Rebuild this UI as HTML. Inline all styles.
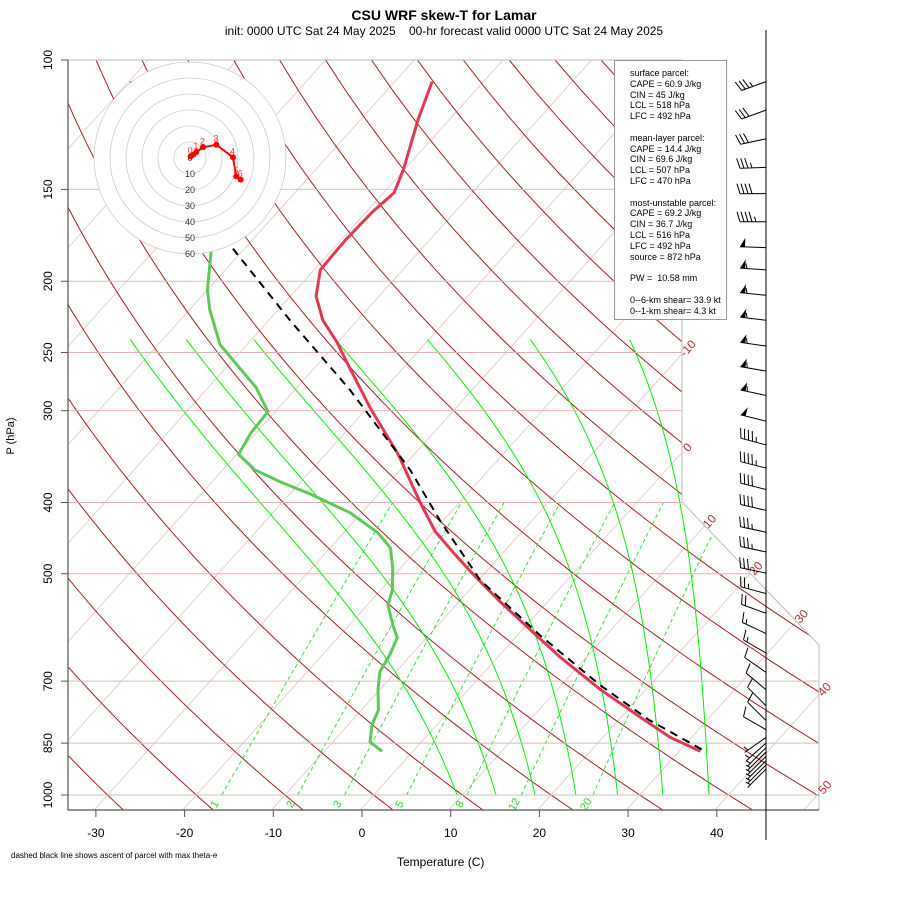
<!DOCTYPE html>
<html><head><meta charset="utf-8"><style>
html,body{margin:0;padding:0;background:#fff;}
#wrap{position:relative;width:900px;height:900px;overflow:hidden;font-family:"Liberation Sans",sans-serif;}
.t{position:absolute;white-space:nowrap;color:#000;}
#panel{position:absolute;left:614px;top:60px;width:113px;height:260px;border:1px solid #999;background:#fff;box-sizing:border-box;font-size:9px;line-height:10.8px;padding:7px 0 0 15px;}
</style></head><body>
<div id="wrap">
<svg id="svg" width="900" height="900" style="position:absolute;left:0;top:0"></svg>
<div class="t" style="left:0;width:888px;text-align:center;top:7px;font-size:14px;font-weight:bold;">CSU WRF skew-T for Lamar</div>
<div class="t" style="left:0;width:888px;text-align:center;top:24px;font-size:12px;">init: 0000 UTC Sat 24 May 2025&nbsp;&nbsp;&nbsp;&nbsp;00-hr forecast valid 0000 UTC Sat 24 May 2025</div>
<div class="t" style="left:397px;top:855px;font-size:12px;">Temperature (C)</div>
<div class="t" style="left:11px;top:851px;font-size:8px;">dashed black line shows ascent of parcel with max theta-e</div>
<div id="panel">surface parcel:<br>CAPE = 60.9 J/kg<br>CIN = 45 J/kg<br>LCL = 518 hPa<br>LFC = 492 hPa<br><br>mean-layer parcel:<br>CAPE = 14.4 J/kg<br>CIN = 69.6 J/kg<br>LCL = 507 hPa<br>LFC = 470 hPa<br><br>most-unstable parcel:<br>CAPE = 69.2 J/kg<br>CIN = 36.7 J/kg<br>LCL = 516 hPa<br>LFC = 492 hPa<br>source = 872 hPa<br><br>PW =&nbsp; 10.58 mm<br><br>0--6-km shear= 33.9 kt<br>0--1-km shear= 4.3 kt</div>
</div>
<script>
// ---- data ----
const tempP = [107,120.7,141,151.6,161,175.8,193,209.6,226,242,262.6,298.4,344,399.5,438,471,506,547,596,649,719,784,835,872];
const tempT = [-65.8,-63.5,-60.1,-58.8,-59.3,-59.5,-59.3,-57.1,-53.9,-50.1,-46,-39.5,-31.8,-24.5,-19.8,-15.2,-10.5,-5.2,0.9,7.0,14.9,22.2,27.6,32.4];
const dewP = [178.3,205.5,218.8,244,262.6,279,301,321,344,361,375,389.5,413,440,461,491,526,551,587,611,645,680,719,766,803,847,872];
const dewT = [-74.1,-70.0,-67.7,-63,-58.4,-54.6,-50.8,-50.6,-49.8,-46.4,-42.3,-37.7,-31.3,-26.1,-23.2,-20.9,-18.7,-17.7,-15.1,-13.3,-12.4,-11.8,-10.2,-8.1,-7.3,-5.8,-3.5];
const parcelP = [107,180,226,281,361,423,510,606,709,791,869];
const parcelT = [-99.8,-71.5,-57.6,-43.8,-28.9,-20.4,-9.8,2.5,14.4,23.5,32.6];
const windP = [107,117,128,140,152,166,180,193,209,226,245,265,286,310,334,359,384,410,439,467,499,532,566,603,641,681,719,756,792,815,835,850,862,874,886,898,910,922];
const windSpd = [35,30,30,35,40,45,50,55,55,55,55,55,55,50,45,45,40,40,35,35,30,25,20,15,15,10,10,10,10,10,5,5,5,5,5,5,5,5];
const windDir = [250,250,258,268,270,270,272,274,276,277,278,280,282,284,285,284,284,283,282,282,282,285,290,295,300,305,310,315,315,300,235,228,225,225,225,225,225,225];
const hodoU = [0.4,2,4.0,8.1,16.5,26.9,28.9,31.7];
const hodoV = [1.0,2,3.75,6.7,8.3,0.4,-11.5,-13.5];
const hodoLbl = ['0','','1','2','3','4','5','6'];
const xTicks = [-30,-20,-10,0,10,20,30,40];
const pTicks = [100,150,200,250,300,400,500,700,850,1000];
const mixW = [1,2,3,5,8,12,20];
const moistT0 = [9.4,13.8,18.2,22.8,27.5,32.6,37.8];
const moistShapeT0 = [8.1,11.9,15.8,19.8,23.7,27.7,31.7];
const isoLabels = [-10,0,10,20,30,40,50];
const hodoRings = [10,20,30,40,50,60];

// ---- axes ----
const NS='http://www.w3.org/2000/svg';
const svg=document.getElementById('svg');
function yP(p){return 60+735*Math.log10(p/100);}
function xT(T,p){return 362+8.87*T+(808-yP(p))*0.9;}
function pY(y){return 100*Math.pow(10,(y-60)/735);}
function mk(tag,parent){const e=document.createElementNS(NS,tag);(parent||svg).appendChild(e);return e;}
function path(pts){return 'M'+pts.map(q=>q[0].toFixed(1)+','+q[1].toFixed(1)).join('L');}

const defs=mk('defs');
const cp=mk('clipPath',defs); cp.setAttribute('id','clipA');
const cpp=mk('polygon',cp); cpp.setAttribute('points','68,60 682,60 682,502 819,645 819,810 68,810');
const bg=mk('g'); bg.setAttribute('clip-path','url(#clipA)');



// isotherms
for(let T=-140;T<=60;T+=10){
  const l=mk('line',bg);
  
  
  l.setAttribute('x1',xT(T,1050));l.setAttribute('y1',yP(1050));
  l.setAttribute('x2',xT(T,95));l.setAttribute('y2',yP(95));
  l.setAttribute('stroke','#e8c0c0');l.setAttribute('stroke-width','0.8');
}
// dry adiabats
for(let th=-30;th<=200;th+=10){
  const pts=[];
  for(let p=1050;p>=95;p-=10){const T=(th+273.15)*Math.pow(p/1000,0.286)-273.15;pts.push([xT(T,p),yP(p)]);}
  const e=mk('path',bg);
  
  
  e.setAttribute('d',path(pts));e.setAttribute('fill','none');e.setAttribute('stroke','#a02020');e.setAttribute('stroke-width','1');
}
// moist adiabats
function satMix(T,p){const es=6.112*Math.exp(17.67*T/(T+243.5));return 0.622*es/(p-es);}
const yTopM=yP(240),yBotM=yP(1000);
moistT0.forEach((T0,k)=>{
  let T=moistShapeT0[k];const off=(T0-T)*8.87;
  const pts=[[xT(T,1000)+off,yBotM]];
  for(let p=1000;p>240;p-=2){
    const Tk=T+273.15,rs=satMix(T,p);
    const d=(287*Tk+2.5e6*rs)/(p*(1005+2.5e6*2.5e6*rs*0.622/(287*Tk*Tk)));
    T-=d*2;const y=yP(p-2);
    pts.push([xT(T,p-2)+off*(y-yTopM)/(yBotM-yTopM),y]);
  }
  const e=mk('path',bg);
  
  
  e.setAttribute('d',path(pts));e.setAttribute('fill','none');e.setAttribute('stroke','#00ee00');e.setAttribute('stroke-width','1');
});
// mixing ratio lines
function tdMix(w,p){const e=w*p/(622+w);const a=Math.log(e/6.112);return 243.5*a/(17.67-a);}
mixW.forEach(w=>{
  const pts=[];for(let p=1000;p>=400;p-=20)pts.push([xT(tdMix(w,p),p),yP(p)]);
  const e=mk('path',bg);
  
  
  e.setAttribute('d',path(pts));e.setAttribute('fill','none');e.setAttribute('stroke','#22dd22');e.setAttribute('stroke-width','0.9');e.setAttribute('stroke-dasharray','4,3');
  const t=mk('text');
  
  
  const x=xT(tdMix(w,1000),1000)-4,y=806;
  t.setAttribute('x',x);t.setAttribute('y',y);t.setAttribute('transform','rotate(-60 '+x+' '+y+')');
  t.setAttribute('fill','#22dd22');t.setAttribute('font-size','11');t.setAttribute('text-anchor','middle');t.textContent=w;
});
// pressure lines
pTicks.forEach(p=>{
  if(p===100)return;
  const l=mk('line',bg);
  
  
  l.setAttribute('x1',68);l.setAttribute('x2',820);l.setAttribute('y1',yP(p));l.setAttribute('y2',yP(p));
  l.setAttribute('stroke',(p===150||p===200)?'#c8c8c8':(p>=700?'#cfbcbc':'#e0b4b4'));l.setAttribute('stroke-width','1');
});
// boundary
const bd=mk('polyline');


bd.setAttribute('points','68,60 682,60 682,502 819,645 819,810');bd.setAttribute('fill','none');bd.setAttribute('stroke','#bbb');bd.setAttribute('stroke-width','1');
const ax=mk('polyline');


ax.setAttribute('points','68,60 68,810 819,810');ax.setAttribute('fill','none');ax.setAttribute('stroke','#555');ax.setAttribute('stroke-width','1.2');
// isotherm labels
isoLabels.forEach(T=>{
  let x=0,y=0;
  for(let yy=60;yy<=808;yy+=1){const xx=xT(T,pY(yy));const xb=yy<=502?682:(yy<=645?682+(yy-502)*137/143:819);if(xx<=xb+1){x=xx;y=yy;break;}}
  const t=mk('text');
  
  
  const lx=x+8,ly=y-2;
  t.setAttribute('x',lx);t.setAttribute('y',ly);t.setAttribute('transform','rotate(-48 '+lx+' '+ly+')');
  t.setAttribute('fill','#b03030');t.setAttribute('font-size','12');t.setAttribute('text-anchor','middle');t.textContent=T;
});
// x ticks
xTicks.forEach(T=>{
  const x=362+8.87*T;
  const l=mk('line');
  
  
  l.setAttribute('x1',x);l.setAttribute('x2',x);l.setAttribute('y1',810);l.setAttribute('y2',817);l.setAttribute('stroke','#555');
  const t=mk('text');
  
  
  t.setAttribute('x',x);t.setAttribute('y',837);t.setAttribute('font-size','12');t.setAttribute('text-anchor','middle');t.textContent=T;
});
// y ticks
pTicks.forEach(p=>{
  const y=yP(p);
  const l=mk('line');
  
  
  l.setAttribute('x1',61);l.setAttribute('x2',68);l.setAttribute('y1',y);l.setAttribute('y2',y);l.setAttribute('stroke','#555');
  const t=mk('text');
  
  
  t.setAttribute('x',52);t.setAttribute('y',y);t.setAttribute('transform','rotate(-90 52 '+y+')');t.setAttribute('font-size','12');t.setAttribute('text-anchor','middle');t.textContent=p;
});
const yt=mk('text');


yt.setAttribute('x',14);yt.setAttribute('y',436);yt.setAttribute('transform','rotate(-90 14 436)');yt.setAttribute('font-size','11');yt.setAttribute('text-anchor','middle');yt.textContent='P (hPa)';

// profiles
function profile(P,T,color,w,dash,name){
  const e=mk('path');
  
  
  e.setAttribute('d',path(P.map((p,i)=>[xT(T[i],p),yP(p)])));
  e.setAttribute('fill','none');e.setAttribute('stroke',color);e.setAttribute('stroke-width',w);e.setAttribute('stroke-linejoin','round');
  if(dash)e.setAttribute('stroke-dasharray',dash);
}
profile(dewP,dewT,'#5ec85a','3',null,'dewpoint-profile');
profile(tempP,tempT,'#e03a52','3',null,'temperature-profile');
profile(parcelP,parcelT,'#000','2','8,6','parcel-ascent-line');

// hodograph
const hcx=190,hcy=158,hs=1.6;
const hg=mk('g');


const hbg=mk('circle',hg);


hbg.setAttribute('cx',hcx);hbg.setAttribute('cy',hcy);hbg.setAttribute('r',60*hs);hbg.setAttribute('fill','#fff');
hodoRings.forEach(r=>{
  const c=mk('circle',hg);
  
  
  c.setAttribute('cx',hcx);c.setAttribute('cy',hcy);c.setAttribute('r',r*hs);c.setAttribute('fill','none');c.setAttribute('stroke','#ccc');c.setAttribute('stroke-width','0.8');
  const t=mk('text',hg);
  
  
  t.setAttribute('x',hcx);t.setAttribute('y',hcy+r*hs+3);t.setAttribute('font-size','9');t.setAttribute('text-anchor','middle');t.setAttribute('fill','#333');t.textContent=r;
});
const hz=mk('text',hg);


hz.setAttribute('x',hcx);hz.setAttribute('y',hcy+3);hz.setAttribute('font-size','9');hz.setAttribute('text-anchor','middle');hz.setAttribute('fill','#333');hz.textContent='0';
const hpts=hodoU.map((u,i)=>[hcx+u*hs,hcy-hodoV[i]*hs]);
const hl=mk('path',hg);


hl.setAttribute('d',path(hpts));hl.setAttribute('fill','none');hl.setAttribute('stroke','#f00');hl.setAttribute('stroke-width','2');
hpts.forEach((q,i)=>{
  const c=mk('circle',hg);
  
  
  c.setAttribute('cx',q[0]);c.setAttribute('cy',q[1]);c.setAttribute('r',3);c.setAttribute('fill','#f00');
  if(hodoLbl[i]){const t=mk('text',hg);
  
  
  t.setAttribute('x',q[0]-3);t.setAttribute('y',q[1]-3);t.setAttribute('font-size','9');t.setAttribute('fill','#f33');t.textContent=hodoLbl[i];}
});

// wind barbs
const vl=mk('line');


vl.setAttribute('x1',766);vl.setAttribute('x2',766);vl.setAttribute('y1',30);vl.setAttribute('y2',840);vl.setAttribute('stroke','#000');vl.setAttribute('stroke-width','1');
windP.forEach((p,i)=>{
  const y=yP(p),x=766,L=26;
  const a=windDir[i]*Math.PI/180;
  const sx=Math.sin(a),sy=-Math.cos(a);
  const tx=x+sx*L,ty=y+sy*L;
  const g=mk('g');
  
  
  let d='M'+x+','+y+'L'+tx.toFixed(1)+','+ty.toFixed(1);
  let spd=windSpd[i],pos=0;
  const px=-sy,py=sx;
  let fills='';
  while(spd>=50){
    const b1x=tx-sx*pos,b1y=ty-sy*pos,b2x=tx-sx*(pos+5),b2y=ty-sy*(pos+5);
    fills+='M'+b1x.toFixed(1)+','+b1y.toFixed(1)+'L'+(b2x+px*9).toFixed(1)+','+(b2y+py*9).toFixed(1)+'L'+b2x.toFixed(1)+','+b2y.toFixed(1)+'Z';
    spd-=50;pos+=7;
  }
  while(spd>=10){
    const bx=tx-sx*pos,by=ty-sy*pos;
    d+='M'+bx.toFixed(1)+','+by.toFixed(1)+'L'+(bx+px*10+sx*3).toFixed(1)+','+(by+py*10+sy*3).toFixed(1);
    spd-=10;pos+=4;
  }
  if(spd>=5){
    if(pos===0)pos=4;
    const bx=tx-sx*pos,by=ty-sy*pos;
    d+='M'+bx.toFixed(1)+','+by.toFixed(1)+'L'+(bx+px*5+sx*1.5).toFixed(1)+','+(by+py*5+sy*1.5).toFixed(1);
  }
  const e=mk('path',g);
  
  
  e.setAttribute('d',d);e.setAttribute('stroke','#000');e.setAttribute('stroke-width','1');e.setAttribute('fill','none');
  if(fills){const f=mk('path',g);
  
  
  f.setAttribute('d',fills);f.setAttribute('fill','#000');}
});
</script>
</body></html>
